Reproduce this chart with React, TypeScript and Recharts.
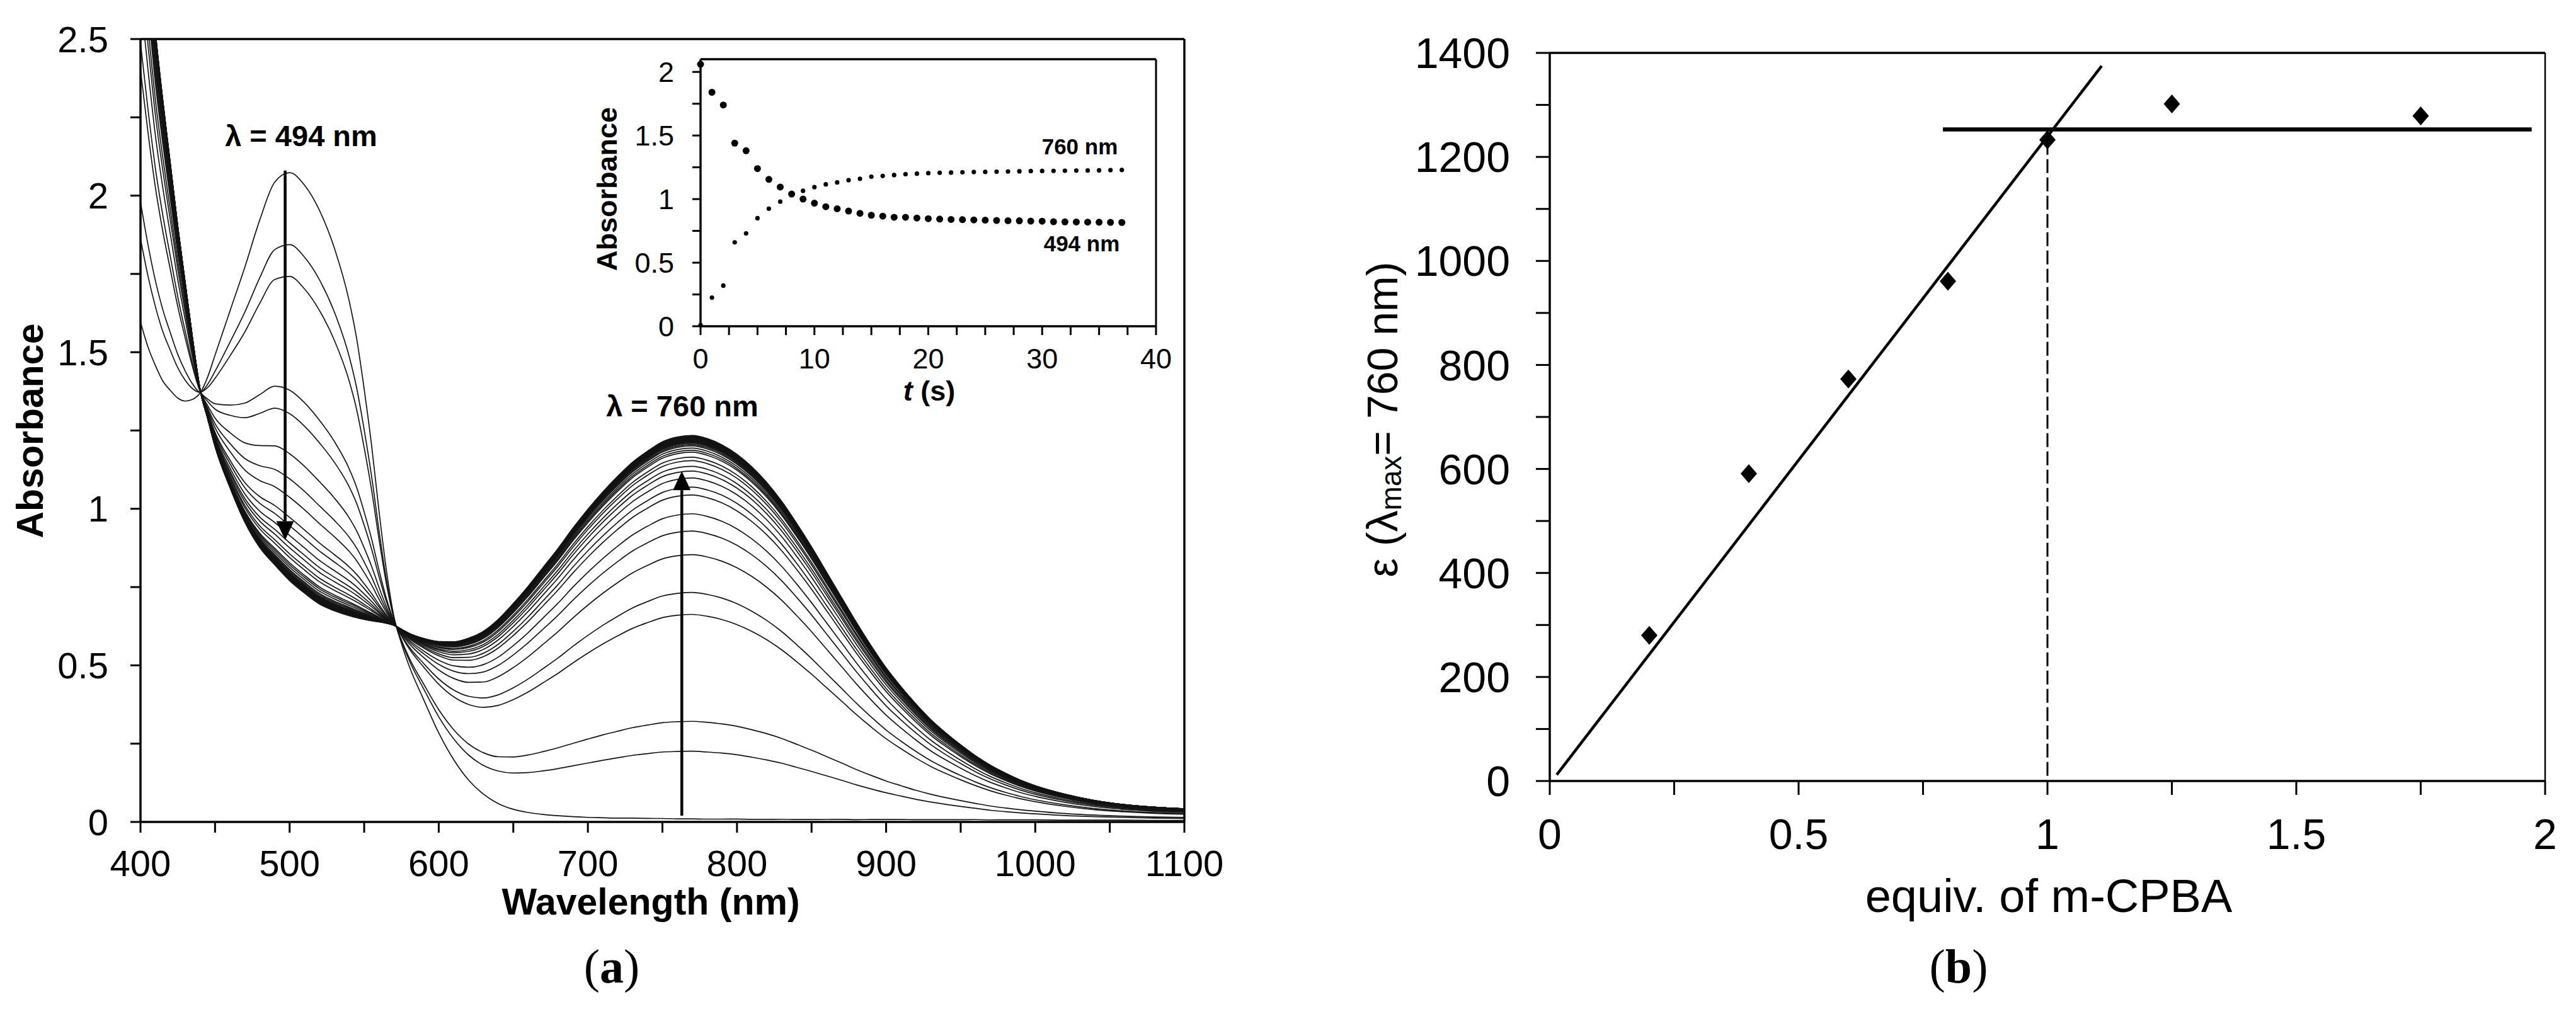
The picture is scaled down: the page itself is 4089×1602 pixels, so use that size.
import { Line, LineChart, ReferenceLine, Scatter, ScatterChart, XAxis, YAxis } from "recharts";

const WAVELENGTHS = [
  400, 405, 410, 415, 420, 425, 430, 435, 440, 445, 450, 460, 470, 480, 490, 500, 510, 520, 530, 540,
  545, 550, 555, 560, 565, 570, 575, 580, 590, 600, 610, 620, 630, 640, 650, 660, 670, 680, 690, 700,
  710, 720, 730, 740, 750, 760, 770, 780, 790, 800, 810, 820, 830, 840, 850, 860, 870, 880, 890, 900,
  910, 920, 930, 940, 950, 960, 970, 980, 990, 1000, 1020, 1040, 1060, 1080, 1100,
];
const SPECTRUM_START = [
  1.6, 1.52, 1.46, 1.41, 1.38, 1.355, 1.345, 1.35, 1.37, 1.42, 1.49, 1.63, 1.77, 1.92, 2.04, 2.07, 2.03, 1.95, 1.83, 1.66,
  1.54, 1.38, 1.2, 0.99, 0.8, 0.655, 0.57, 0.5, 0.39, 0.285, 0.2, 0.135, 0.09, 0.06, 0.042, 0.032, 0.026, 0.022, 0.019, 0.017,
  0.016, 0.015, 0.015, 0.014, 0.014, 0.013, 0.013, 0.012, 0.012, 0.012, 0.011, 0.011, 0.011, 0.01, 0.01, 0.01, 0.01, 0.009, 0.009, 0.009,
  0.009, 0.008, 0.008, 0.008, 0.008, 0.008, 0.007, 0.007, 0.007, 0.007, 0.006, 0.006, 0.006, 0.005, 0.005,
];
const SPECTRUM_END = [
  3.1, 2.8, 2.52, 2.3, 2.1, 1.9, 1.72, 1.54, 1.38, 1.29, 1.2, 1.07, 0.96, 0.88, 0.825, 0.775, 0.735, 0.7, 0.678, 0.662,
  0.655, 0.649, 0.644, 0.64, 0.635, 0.628, 0.615, 0.602, 0.585, 0.575, 0.574, 0.585, 0.607, 0.645, 0.695, 0.75, 0.81, 0.87, 0.935, 0.995,
  1.05, 1.1, 1.145, 1.18, 1.21, 1.225, 1.23, 1.22, 1.2, 1.17, 1.13, 1.08, 1.02, 0.95, 0.875, 0.795, 0.715, 0.635, 0.56, 0.49,
  0.43, 0.375, 0.325, 0.283, 0.245, 0.21, 0.18, 0.155, 0.133, 0.115, 0.088, 0.068, 0.055, 0.047, 0.042,
];

// inset: absorbance vs time
const TIMES = [
  0, 1, 2, 3, 4, 5, 6, 7, 8, 9, 10, 11, 12, 13, 14, 15, 16, 17, 18, 19,
  20, 21, 22, 23, 24, 25, 26, 27, 28, 29, 30, 31, 32, 33, 34, 35, 36, 37,
];
const ABS_494 = [
  2.06, 1.84, 1.74, 1.44, 1.38, 1.24, 1.155, 1.095, 1.04, 1.0, 0.968, 0.94, 0.924, 0.906, 0.888, 0.873, 0.866, 0.857, 0.857, 0.851,
  0.846, 0.843, 0.84, 0.838, 0.836, 0.834, 0.832, 0.83, 0.829, 0.827, 0.826, 0.822, 0.821, 0.82, 0.819, 0.818, 0.817, 0.816,
];
const ABS_760 = [
  0.01, 0.225, 0.32, 0.66, 0.73, 0.85, 0.925, 0.98, 1.04, 1.065, 1.094, 1.116, 1.131, 1.149, 1.16, 1.176, 1.182, 1.189, 1.196, 1.2,
  1.204, 1.207, 1.209, 1.211, 1.213, 1.214, 1.216, 1.217, 1.219, 1.22, 1.221, 1.222, 1.223, 1.224, 1.225, 1.226, 1.228, 1.229,
];

// (b) titration
const EQUIV = [0.2, 0.4, 0.6, 0.8, 1.0, 1.25, 1.75];
const EPSILON = [280, 591, 773, 961, 1233, 1302, 1279];
const RISE_LINE = [{ x: 0.014, y: 12 }, { x: 1.109, y: 1375 }];
const PLATEAU_LINE = [{ x: 0.79, y: 1253 }, { x: 1.973, y: 1253 }];
const END_POINT_LINE = [{ x: 1, y: 10 }, { x: 1, y: 1245 }];

const WL_TICKS = [400, 450, 500, 550, 600, 650, 700, 750, 800, 850, 900, 950, 1000, 1050, 1100];
const ABS_TICKS = [0, 0.25, 0.5, 0.75, 1, 1.25, 1.5, 1.75, 2, 2.25, 2.5];
const INSET_T_TICKS = [0, 2.5, 5, 7.5, 10, 12.5, 15, 17.5, 20, 22.5, 25, 27.5, 30, 32.5, 35, 37.5, 40];
const INSET_ABS_TICKS = [0, 0.25, 0.5, 0.75, 1, 1.25, 1.5, 1.75, 2];
const EQUIV_TICKS = [0, 0.25, 0.5, 0.75, 1, 1.25, 1.5, 1.75, 2];
const EPS_TICKS = [0, 100, 200, 300, 400, 500, 600, 700, 800, 900, 1000, 1100, 1200, 1300, 1400];

const SANS = "'Liberation Sans', Arial, sans-serif";
const SERIF = "'Liberation Serif', 'Times New Roman', serif";
const INK = "#000";

// each recorded spectrum as a mix of first and last spectrum, weighted by its 760 nm reading
const i760 = WAVELENGTHS.indexOf(760);
const weights = ABS_760.map(
  (a) => (a - SPECTRUM_START[i760]) / (SPECTRUM_END[i760] - SPECTRUM_START[i760])
);
const spectraRows = WAVELENGTHS.map((wl, i) => {
  const row: Record<string, number> = { wl };
  weights.forEach((w, k) => {
    row[`s${k}`] = SPECTRUM_START[i] * (1 - w) + SPECTRUM_END[i] * w;
  });
  return row;
});

const kineticsRows494 = TIMES.map((t, i) => ({ t, a: ABS_494[i] }));
const kineticsRows760 = TIMES.map((t, i) => ({ t, a: ABS_760[i] }));
const titrationRows = EQUIV.map((x, i) => ({ x, y: EPSILON[i] }));

function tickMaker(side: "x" | "y", fontSize: number, every: number) {
  return (props: any) => {
    const { x, y, payload } = props;
    const v = Number(payload.value);
    const k = v / every;
    if (Math.abs(k - Math.round(k)) > 1e-6) return <g />;
    return (
      <text
        x={x}
        y={y}
        dy={side === "x" ? "0.71em" : "0.355em"}
        textAnchor={side === "x" ? "middle" : "end"}
        fontFamily={SANS}
        fontSize={fontSize}
        fill={INK}
      >
        {String(v)}
      </text>
    );
  };
}

function arrowShape(props: any) {
  const { x1, y1, x2, y2 } = props;
  const dir = Math.sign(y2 - y1);
  const head = 30;
  const half = 14;
  return (
    <g>
      <line x1={x1} y1={y1} x2={x2} y2={y2 - dir * head} stroke={INK} strokeWidth={4.5} />
      <polygon
        points={`${x2},${y2} ${x2 - half},${y2 - dir * head} ${x2 + half},${y2 - dir * head}`}
        fill={INK}
      />
    </g>
  );
}

const axisLine = { stroke: INK, strokeWidth: 3.5 };
const tickLine = { stroke: INK, strokeWidth: 3 };

function SpectraPanel() {
  return (
    <LineChart
      width={1960}
      height={1480}
      data={spectraRows}
      margin={{ top: 62, right: 80, bottom: 0, left: 0 }}
    >
      <XAxis
        dataKey="wl"
        type="number"
        domain={[400, 1100]}
        ticks={WL_TICKS}
        interval={0}
        height={175}
        tickSize={17}
        tickMargin={28}
        axisLine={axisLine}
        tickLine={tickLine}
        tick={tickMaker("x", 58, 100)}
      />
      <YAxis
        type="number"
        domain={[0, 2.5]}
        allowDataOverflow
        ticks={ABS_TICKS}
        interval={0}
        width={223}
        tickSize={16}
        tickMargin={35}
        axisLine={axisLine}
        tickLine={tickLine}
        tick={tickMaker("y", 58, 0.5)}
      />
      <ReferenceLine y={2.5} stroke={INK} strokeWidth={3.5} />
      <ReferenceLine x={1100} stroke={INK} strokeWidth={3.5} />
      {weights.map((_, k) => (
        <Line
          key={k}
          dataKey={`s${k}`}
          type="monotone"
          dot={false}
          stroke="#141414"
          strokeWidth={1.7}
          isAnimationActive={false}
        />
      ))}
      <ReferenceLine segment={[{ x: 497, y: 2.08 }, { x: 497, y: 0.9 }]} shape={arrowShape} />
      <ReferenceLine segment={[{ x: 763, y: 0.02 }, { x: 763, y: 1.12 }]} shape={arrowShape} />
    </LineChart>
  );
}

function KineticsInset() {
  const dot = (r: number) => (p: any) => <circle cx={p.cx} cy={p.cy} r={r} fill={INK} />;
  return (
    <ScatterChart width={1000} height={700} margin={{ top: 94, right: 65, bottom: 0, left: 0 }}>
      <XAxis
        dataKey="t"
        type="number"
        domain={[0, 40]}
        ticks={INSET_T_TICKS}
        interval={0}
        height={182}
        tickSize={14}
        tickMargin={21}
        axisLine={axisLine}
        tickLine={tickLine}
        tick={tickMaker("x", 45, 10)}
      />
      <YAxis
        dataKey="a"
        type="number"
        domain={[0, 2.1]}
        ticks={INSET_ABS_TICKS}
        interval={0}
        width={212}
        tickSize={13}
        tickMargin={29}
        axisLine={axisLine}
        tickLine={tickLine}
        tick={tickMaker("y", 45, 0.5)}
      />
      <ReferenceLine y={2.1} stroke={INK} strokeWidth={3.5} />
      <ReferenceLine x={40} stroke={INK} strokeWidth={3} />
      <Scatter data={kineticsRows494} shape={dot(5.5)} isAnimationActive={false} />
      <Scatter data={kineticsRows760} shape={dot(3.6)} isAnimationActive={false} />
    </ScatterChart>
  );
}

function TitrationPanel() {
  const diamond = (p: any) => (
    <polygon
      points={`${p.cx},${p.cy - 15} ${p.cx + 13},${p.cy} ${p.cx},${p.cy + 15} ${p.cx - 13},${p.cy}`}
      fill={INK}
    />
  );
  return (
    <ScatterChart width={1889} height={1440} margin={{ top: 84, right: 49, bottom: 0, left: 0 }}>
      <XAxis
        dataKey="x"
        type="number"
        domain={[0, 2]}
        ticks={EQUIV_TICKS}
        interval={0}
        height={200}
        tickSize={22}
        tickMargin={38}
        axisLine={axisLine}
        tickLine={tickLine}
        tick={tickMaker("x", 68, 0.5)}
      />
      <YAxis
        dataKey="y"
        type="number"
        domain={[0, 1400]}
        ticks={EPS_TICKS}
        interval={0}
        width={260}
        tickSize={22}
        tickMargin={41}
        axisLine={axisLine}
        tickLine={tickLine}
        tick={tickMaker("y", 68, 200)}
      />
      <ReferenceLine y={1400} stroke={INK} strokeWidth={3.5} />
      <ReferenceLine x={2} stroke={INK} strokeWidth={2.5} />
      <ReferenceLine segment={RISE_LINE} stroke={INK} strokeWidth={4.5} />
      <ReferenceLine segment={PLATEAU_LINE} stroke={INK} strokeWidth={6.5} />
      <ReferenceLine segment={END_POINT_LINE} stroke={INK} strokeWidth={3} strokeDasharray="22 7" />
      <Scatter data={titrationRows} shape={diamond} isAnimationActive={false} />
    </ScatterChart>
  );
}

function Titles() {
  return (
    <svg
      width={4089}
      height={1602}
      style={{ position: "absolute", left: 0, top: 0, pointerEvents: "none" }}
    >
      <g fontFamily={SANS} fill={INK}>
        <text x={48} y={684} transform="rotate(-90 48 684)" textAnchor="middle" dominantBaseline="central" fontSize={59} fontWeight="bold">
          Absorbance
        </text>
        <text x={1033} y={1452} textAnchor="middle" fontSize={59} fontWeight="bold">
          Wavelength (nm)
        </text>
        <text x={478} y={232} textAnchor="middle" fontSize={47} fontWeight="bold">
          λ = 494 nm
        </text>
        <text x={1083} y={661} textAnchor="middle" fontSize={47} fontWeight="bold">
          λ = 760 nm
        </text>
        <text x={963} y={300} transform="rotate(-90 963 300)" textAnchor="middle" dominantBaseline="central" fontSize={45} fontWeight="bold">
          Absorbance
        </text>
        <text x={1475} y={636} textAnchor="middle" fontSize={45} fontWeight="bold">
          <tspan fontStyle="italic">t</tspan> (s)
        </text>
        <text x={1714} y={245} textAnchor="middle" fontSize={35} fontWeight="bold">
          760 nm
        </text>
        <text x={1717} y={399} textAnchor="middle" fontSize={35} fontWeight="bold">
          494 nm
        </text>
        <text x={3252} y={1448} textAnchor="middle" fontSize={74}>
          equiv. of m-CPBA
        </text>
        <text x={2194} y={666} transform="rotate(-90 2194 666)" textAnchor="middle" dominantBaseline="central" fontSize={68}>
          ε (λ<tspan fontSize={46} dy={14}>max</tspan>
          <tspan dy={-14}>= 760 nm)</tspan>
        </text>
      </g>
      <g fontFamily={SERIF} fill={INK} fontSize={76}>
        <text x={971} y={1560} textAnchor="middle">
          (<tspan fontWeight="bold">a</tspan>)
        </text>
        <text x={3109} y={1560} textAnchor="middle">
          (<tspan fontWeight="bold">b</tspan>)
        </text>
      </g>
    </svg>
  );
}

export default function App() {
  return (
    <div style={{ position: "absolute", left: 0, top: 0, width: 4089, height: 1602, background: "#fff" }}>
      <div style={{ position: "absolute", left: 0, top: 0 }}>
        <SpectraPanel />
      </div>
      <div style={{ position: "absolute", left: 900, top: 0 }}>
        <KineticsInset />
      </div>
      <div style={{ position: "absolute", left: 2200, top: 0 }}>
        <TitrationPanel />
      </div>
      <Titles />
    </div>
  );
}
